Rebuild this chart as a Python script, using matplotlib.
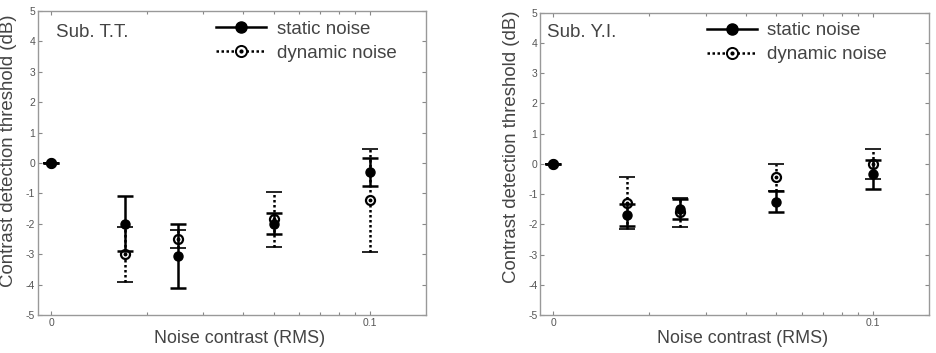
import matplotlib
matplotlib.use("Agg")
import matplotlib.pyplot as plt
from matplotlib.ticker import FixedLocator, FixedFormatter, NullFormatter, LogLocator

plt.rcParams['font.family'] = ['Liberation Sans', 'DejaVu Sans']
plt.rcParams['axes.unicode_minus'] = False

# Noise contrast (RMS); the "0" condition is plotted at 0.01 on the log axis
noise_contrast = [0.01, 0.017, 0.025, 0.05, 0.1]
xtick_values = [0.01, 0.1]
xtick_labels = ['0', '0.1']
ytick_values = [-5, -4, -3, -2, -1, 0, 1, 2, 3, 4, 5]

# Sub. T.T.
tt_static = [0.0, -2.0, -3.05, -2.0, -0.3]
tt_static_err = [0.0, 0.9, 1.05, 0.35, 0.45]
tt_dynamic = [0.0, -3.0, -2.5, -1.85, -1.23]
tt_dynamic_err = [0.0, 0.9, 0.3, 0.9, 1.7]

# Sub. Y.I.
yi_static = [0.0, -1.7, -1.48, -1.25, -0.35]
yi_static_err = [0.0, 0.37, 0.33, 0.35, 0.47]
yi_dynamic = [0.0, -1.3, -1.6, -0.45, 0.0]
yi_dynamic_err = [0.0, 0.87, 0.48, 0.45, 0.5]

panels = [
    dict(name='Sub. T.T.', s=tt_static, se=tt_static_err, d=tt_dynamic, de=tt_dynamic_err,
         rect=[38/937, 1-315/353, 388/937, 304/353], name_xy=(0.046, 0.928),
         leg_xy=(0.458, 0.968), ylab=(-0.054, 0.539), xlab=(0.52, -0.05)),
    dict(name='Sub. Y.I.', s=yi_static, se=yi_static_err, d=yi_dynamic, de=yi_dynamic_err,
         rect=[540.3/937, 1-315/353, 388.4/937, 302.3/353], name_xy=(0.018, 0.933),
         leg_xy=(0.428, 0.968), ylab=(-0.052, 0.557), xlab=(0.52, -0.05)),
]

fig = plt.figure(figsize=(9.37, 3.53), dpi=100)
gray = '#555555'
dots = (0, (1, 1))

for p in panels:
    ax = fig.add_axes(p['rect'])
    ax.set_xscale('log')
    # dynamic noise
    ebd = ax.errorbar(noise_contrast, p['d'], yerr=p['de'], fmt='none', ecolor='black',
                      elinewidth=1.8, capsize=6, capthick=1.2, zorder=2)
    for lc in ebd[2]:
        lc.set_linestyle(dots)
    ax.plot(noise_contrast, p['d'], linestyle='none', marker='o', ms=6.5,
            mfc='white', mec='black', mew=1.6, zorder=3)
    ax.plot(noise_contrast, p['d'], linestyle='none', marker='o', ms=1.8,
            mfc='black', mec='black', zorder=3.1)
    # static noise
    ax.errorbar(noise_contrast, p['s'], yerr=p['se'], fmt='none', ecolor='black',
                elinewidth=1.8, capsize=6, capthick=1.8, zorder=4)
    ax.plot(noise_contrast, p['s'], linestyle='none', marker='o', ms=6.5,
            mfc='black', mec='black', zorder=5)

    ax.set_xlim(0.0091, 0.15)
    ax.set_ylim(-5, 5)
    ax.xaxis.set_major_locator(FixedLocator(xtick_values))
    ax.xaxis.set_major_formatter(FixedFormatter(xtick_labels))
    ax.xaxis.set_minor_locator(LogLocator(base=10, subs=range(2, 10)))
    ax.xaxis.set_minor_formatter(NullFormatter())
    ax.set_yticks(ytick_values)
    ax.tick_params(axis='both', which='both', direction='in', top=True, right=True,
                   colors='#888888', labelcolor=gray, labelsize=7.5, width=0.8)
    ax.tick_params(axis='both', which='major', length=3, pad=2)
    ax.tick_params(axis='x', which='minor', length=2)
    for sp in ax.spines.values():
        sp.set_color('#999999')
        sp.set_linewidth(1.0)

    ax.set_xlabel('Noise contrast (RMS)', fontsize=12.9, color='#444444')
    ax.set_ylabel('Contrast detection threshold (dB)', fontsize=13.4, color='#444444')
    ax.xaxis.set_label_coords(*p['xlab'])
    ax.yaxis.set_label_coords(*p['ylab'])

    ax.text(p['name_xy'][0], p['name_xy'][1], p['name'], transform=ax.transAxes,
            fontsize=13.5, color='#444444', ha='left', va='center')

    hs, = ax.plot([], [], color='black', linewidth=1.8, marker='o', ms=8, mfc='black')
    hdl, = ax.plot([], [], color='black', linewidth=1.8, linestyle=dots, marker='o', ms=8,
                   mfc='white', mec='black', mew=1.4)
    hdd, = ax.plot([], [], linestyle='none', marker='o', ms=2, mfc='black', mec='black')
    leg = ax.legend([hs, (hdl, hdd)], ['static noise', 'dynamic noise'], loc='upper left',
                    bbox_to_anchor=p['leg_xy'], frameon=False, fontsize=13.5,
                    handlelength=2.7, handletextpad=0.55, labelspacing=0.35,
                    borderpad=0, borderaxespad=0)
    for t in leg.get_texts():
        t.set_color('#444444')

fig.savefig('out.png', dpi=100)
